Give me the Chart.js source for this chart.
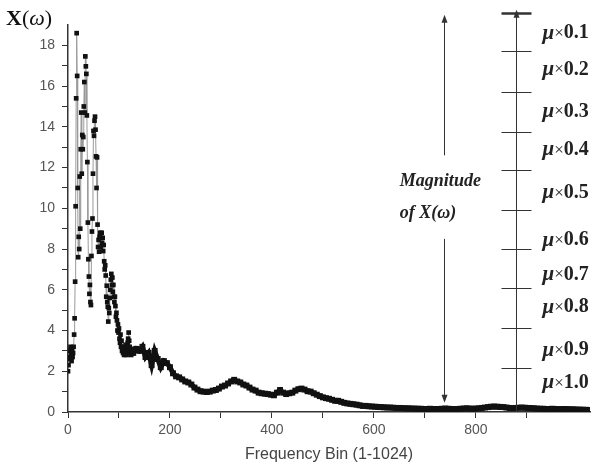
<!DOCTYPE html>
<html>
<head>
<meta charset="utf-8">
<script src="https://cdn.jsdelivr.net/npm/chart.js@4.4.1/dist/chart.umd.min.js"></script>
<style>
  html, body { margin: 0; padding: 0; background: #fff; }
  #wrap { width: 599px; height: 468px; position: relative; }
</style>
</head>
<body>
<div id="wrap"><canvas id="chart"></canvas></div>
<script>
// |X(w)| per frequency bin
// low bins: one value per bin (0-127)
const peakStartBin = 0;
const peakMag = [
  2.0, 2.3, 2.7, 3.0, 2.6, 3.2, 2.8, 2.5, 3.1, 2.7, 2.9, 3.2,
  3.8, 4.6, 6.4, 10.1, 15.4, 18.6, 16.5, 11.0, 7.6, 8.6, 8.0, 11.56,
  9.0, 12.9, 14.7, 11.7, 13.6, 12.9, 13.5, 15.0, 16.2, 14.7, 17.46, 16.97,
  16.6, 14.56, 12.27, 9.3, 7.5, 6.65, 5.8, 6.24, 5.4, 5.25, 7.66, 8.86,
  9.5, 11.7, 13.8, 13.56, 14.3, 14.5, 13.86, 12.55, 11.0, 12.5, 9.2, 8.1,
  8.45, 7.87, 8.6, 8.8, 8.1, 8.55, 8.8, 8.3, 8.55, 7.9, 8.2, 7.4,
  7.0, 7.2, 6.7, 5.66, 6.2, 5.4, 5.17, 4.44, 5.1, 4.86, 5.6, 6.0,
  6.5, 6.78, 6.24, 6.6, 5.9, 6.24, 5.66, 5.4, 5.66, 5.2, 4.68, 4.87,
  4.5, 4.0, 4.3, 3.9, 4.1, 3.6, 3.4, 3.8, 3.2, 3.5, 3.0, 3.2,
  2.9, 3.1, 2.8, 3.0, 2.9, 3.3, 3.0, 2.8, 3.1, 3.4, 3.6, 3.9,
  3.5, 3.2, 2.9, 3.0, 2.8, 3.1, 2.9, 3.0
];
// higher bins: every 6th bin from 128
const tailStartBin = 128;
const tailStep = 6;
const tailMag = [
  2.9, 3.1, 3.0, 3.2, 2.7, 2.9, 2.3, 3.0, 2.6, 2.2, 2.5, 2.4, 2.2,
  1.9, 1.75, 1.7, 1.6, 1.5, 1.45, 1.35, 1.2, 1.1, 1.02, 1.0, 0.98, 1.0,
  1.05, 1.08, 1.15, 1.25, 1.3, 1.4, 1.5, 1.58, 1.5, 1.45, 1.35, 1.3, 1.2,
  1.1, 1.05, 0.95, 0.92, 0.9, 0.88, 0.85, 0.82, 0.95, 1.08, 0.95, 0.88, 0.92,
  0.95, 1.05, 1.12, 1.15, 1.1, 1.02, 1.0, 0.92, 0.85, 0.78, 0.72, 0.68, 0.65,
  0.6, 0.55, 0.55, 0.5, 0.45, 0.42, 0.4, 0.38, 0.36, 0.33, 0.3, 0.3, 0.28,
  0.27, 0.26, 0.25, 0.24, 0.23, 0.22, 0.22, 0.21, 0.2, 0.2, 0.19, 0.18, 0.18,
  0.17, 0.17, 0.16, 0.16, 0.15, 0.15, 0.16, 0.15, 0.14, 0.15, 0.16, 0.17, 0.16,
  0.15, 0.14, 0.15, 0.16, 0.17, 0.18, 0.17, 0.16, 0.17, 0.18, 0.2, 0.22, 0.24,
  0.26, 0.27, 0.26, 0.25, 0.24, 0.22, 0.2, 0.19, 0.2, 0.21, 0.22, 0.21, 0.2,
  0.19, 0.18, 0.17, 0.16, 0.16, 0.15, 0.15, 0.16, 0.15, 0.14, 0.14, 0.15, 0.14,
  0.13, 0.13, 0.12, 0.12, 0.11, 0.11, 0.1
];

const xMax = 1024, yMax = 19;
const xLabelStep = 200, xTickStep = 100;
const yLabelStep = 2, yTickStep = 1;
const xTitle = 'Frequency Bin (1-1024)';

// right-hand annotation (data units)
const muBin = 878;
const muLevels = [19.6, 17.7, 15.7, 13.75, 11.9, 9.9, 8.0, 6.1, 4.1, 2.15];
const muFactors = ['0.1', '0.2', '0.3', '0.4', '0.5', '0.6', '0.7', '0.8', '0.9', '1.0'];
const muLabelBin = 931;
const muLabelY = [18.6, 16.8, 14.73, 12.86, 10.75, 8.44, 6.73, 5.15, 3.04, 1.42];
const magArrowBin = 738;
const magArrowTop = [19.5, 12.6];
const magArrowBottom = [8.5, 0.45];
const magText = ['Magnitude', 'of X(\u03c9)'];
const magTextBin = 651;
const magTextY = [11.3, 9.75];

function toPoints(start, step, vals){
  return vals.map((v, i) => ({ x: start + i * step, y: v }));
}

function arrowHead(ctx, x, tipY, dir){
  ctx.beginPath();
  ctx.moveTo(x, tipY);
  ctx.lineTo(x - 3, tipY - dir * 8);
  ctx.lineTo(x + 3, tipY - dir * 8);
  ctx.closePath();
  ctx.fill();
}

const annot = {
  id: 'annot',
  afterDatasetsDraw(chart){
    const { ctx, scales: { x, y } } = chart;
    ctx.save();
    ctx.strokeStyle = '#333';
    ctx.fillStyle = '#333';
    ctx.lineWidth = 1;

    // mu scale
    const mx = Math.round(x.getPixelForValue(muBin)) + 0.5;
    const muTop = y.getPixelForValue(muLevels[0]);
    ctx.beginPath();
    ctx.moveTo(mx, muTop);
    ctx.lineTo(mx, y.getPixelForValue(0));
    ctx.stroke();
    muLevels.forEach((v, i) => {
      const py = Math.round(y.getPixelForValue(v)) + 0.5;
      ctx.lineWidth = i === 0 ? 2.5 : 1;
      ctx.beginPath();
      ctx.moveTo(mx - 15, py);
      ctx.lineTo(mx + 15, py);
      ctx.stroke();
    });
    arrowHead(ctx, mx, muTop - 3, -1);

    // magnitude arrow
    const ax = Math.round(x.getPixelForValue(magArrowBin)) + 0.5;
    ctx.lineWidth = 1;
    ctx.beginPath();
    ctx.moveTo(ax, y.getPixelForValue(magArrowTop[0]) + 4);
    ctx.lineTo(ax, y.getPixelForValue(magArrowTop[1]));
    ctx.moveTo(ax, y.getPixelForValue(magArrowBottom[0]));
    ctx.lineTo(ax, y.getPixelForValue(magArrowBottom[1]) - 4);
    ctx.stroke();
    arrowHead(ctx, ax, y.getPixelForValue(magArrowTop[0]), -1);
    arrowHead(ctx, ax, y.getPixelForValue(magArrowBottom[1]), 1);

    ctx.fillStyle = '#222';
    ctx.textBaseline = 'middle';
    ctx.textAlign = 'left';
    ctx.font = 'italic bold 18px "Liberation Serif"';
    magText.forEach((t, i) => {
      ctx.fillText(t, x.getPixelForValue(magTextBin), y.getPixelForValue(magTextY[i]));
    });

    // mu labels
    muFactors.forEach((f, i) => {
      let px = x.getPixelForValue(muLabelBin);
      const py = y.getPixelForValue(muLabelY[i]);
      ctx.font = 'italic bold 21px "Liberation Serif"';
      ctx.fillText('\u03bc', px, py);
      px += ctx.measureText('\u03bc').width;
      ctx.font = '17px "Liberation Serif"';
      ctx.fillText('\u00d7', px, py);
      px += ctx.measureText('\u00d7').width;
      ctx.font = 'bold 20px "Liberation Serif"';
      ctx.fillText(f, px, py);
    });

    // y axis title X(w)
    ctx.fillStyle = '#111';
    ctx.textBaseline = 'alphabetic';
    let tx = 6;
    const ty = 25;
    ctx.font = 'bold 22px "Liberation Serif"';
    ctx.fillText('X', tx, ty); tx += ctx.measureText('X').width;
    ctx.font = '22px "Liberation Serif"';
    ctx.fillText('(', tx, ty); tx += ctx.measureText('(').width;
    ctx.font = 'italic 22px "Liberation Serif"';
    ctx.fillText('\u03c9', tx, ty); tx += ctx.measureText('\u03c9').width;
    ctx.font = '22px "Liberation Serif"';
    ctx.fillText(')', tx, ty);
    ctx.restore();
  }
};

const tickFont = { family: '"Liberation Sans", Arial, sans-serif', size: 14 };

new Chart(document.getElementById('chart'), {
  type: 'line',
  data: {
    datasets: [
      {
        data: toPoints(peakStartBin, 1, peakMag),
        borderColor: '#9a9a9a', borderWidth: 1,
        pointStyle: 'rect', pointRadius: 3.3, pointBorderWidth: 0,
        pointBackgroundColor: '#111', tension: 0
      },
      {
        data: toPoints(tailStartBin, tailStep, tailMag),
        borderColor: '#111', borderWidth: 5,
        pointStyle: 'rect', pointRadius: 4.2, pointBorderWidth: 0,
        pointBackgroundColor: '#111', tension: 0
      }
    ]
  },
  options: {
    responsive: true,
    maintainAspectRatio: false,
    animation: false,
    layout: { padding: { left: 0, right: 9, top: 25, bottom: 0 } },
    plugins: { legend: { display: false }, tooltip: { enabled: false } },
    scales: {
      x: {
        type: 'linear', min: 0, max: xMax,
        afterBuildTicks: s => { s.ticks = s.ticks.filter(t => t.value % xTickStep === 0 && t.value <= 1000); },
        afterFit: s => { s.height = 56; },
        ticks: {
          stepSize: xTickStep, autoSkip: false, maxRotation: 0,
          color: '#555', font: tickFont, padding: 4,
          callback: v => v % xLabelStep === 0 ? v : ''
        },
        grid: { drawOnChartArea: false, drawTicks: true, tickLength: 6, color: '#333' },
        border: { display: true, color: '#333', width: 1.5 },
        title: { display: true, text: xTitle, color: '#444', padding: { top: 2 },
                 font: { family: '"Liberation Sans", Arial, sans-serif', size: 16 } }
      },
      y: {
        min: 0, max: yMax,
        afterBuildTicks: s => { s.ticks = s.ticks.filter(t => t.value % yTickStep === 0 && t.value <= 18); },
        afterFit: s => { s.width = 68; },
        ticks: {
          stepSize: yTickStep, autoSkip: false,
          color: '#555', font: tickFont, padding: 7,
          callback: v => v % yLabelStep === 0 ? v : ''
        },
        grid: { drawOnChartArea: false, drawTicks: true, tickLength: 6, color: '#333' },
        border: { display: true, color: '#333', width: 1.5 }
      }
    }
  },
  plugins: [annot]
});
</script>
</body>
</html>
